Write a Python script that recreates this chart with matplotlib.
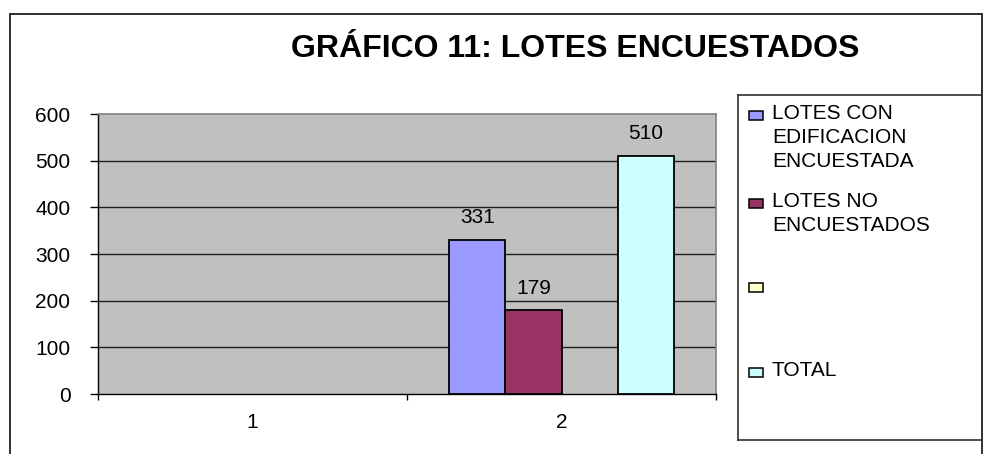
import numpy as np
import matplotlib
matplotlib.use("Agg")
import matplotlib.pyplot as plt
from matplotlib.patches import Rectangle
from matplotlib.lines import Line2D

plt.rcParams['font.family'] = ['Liberation Sans', 'DejaVu Sans']

# ---- data ----
categories = ["1", "2"]
series_names = ["LOTES CON\nEDIFICACION\nENCUESTADA", "LOTES NO\nENCUESTADOS", "", "TOTAL"]
lotes_con_edificacion = [np.nan, 331]
lotes_no_encuestados = [np.nan, 179]
serie_vacia = [np.nan, np.nan]
total = [np.nan, 510]
series_values = [lotes_con_edificacion, lotes_no_encuestados, serie_vacia, total]
series_colors = ["#9999FF", "#993366", "#FFFFCC", "#CCFFFF"]
title = "GRÁFICO 11: LOTES ENCUESTADOS"
yticks = [0, 100, 200, 300, 400, 500, 600]

FS = 15
W, H = 983, 454
fig = plt.figure(figsize=(W / 100, H / 100), dpi=100)

def fx(px):
    return px / W

def fy(py):
    return 1 - py / H

# outer chart border (extends beyond right/bottom of image)
border_col = "#303030"
fig.add_artist(Line2D([fx(10), 1.0], [fy(14), fy(14)], color=border_col, lw=1.4))
fig.add_artist(Line2D([fx(10), fx(10)], [0, fy(14)], color=border_col, lw=1.4))
fig.add_artist(Line2D([fx(982), fx(982)], [0, fy(14)], color=border_col, lw=1.4))

# title
fig.text(fx(575), fy(49), title, ha="center", va="center",
         fontsize=23, fontweight="bold", color="black")

# axes
left, right, top, bottom = 98, 716, 114, 394
ax = fig.add_axes([fx(left), fy(bottom), fx(right - left), (bottom - top) / H])
ax.set_facecolor("#C0C0C0")

n = len(series_values)
w = 1 / 5.5
x = np.arange(len(categories))
for i, (vals, col) in enumerate(zip(series_values, series_colors)):
    offs = (i - (n - 1) / 2) * w
    for xi, v in zip(x, vals):
        if np.isnan(v):
            continue
        ax.bar(xi + offs, v, width=w, color=col, edgecolor="black", linewidth=1.3, zorder=3)
        ax.annotate(f"{int(v)}", (xi + offs, v), xytext=(0, 16), textcoords="offset points",
                    ha="center", va="center", fontsize=FS, color="black", zorder=4)

ax.set_xlim(-0.5, len(categories) - 0.5)
ax.set_ylim(0, 600)
ax.set_yticks(yticks)
ax.set_yticklabels([str(t) for t in yticks], fontsize=FS)
for t in yticks[1:-1]:
    ax.axhline(t, color="#202020", lw=1.0, zorder=1)

ax.set_xticks(x)
ax.set_xticklabels(categories, fontsize=FS)
ax.set_xticks(np.arange(len(categories) + 1) - 0.5, minor=True)
ax.tick_params(axis="x", which="major", length=0, pad=14)
ax.tick_params(axis="x", which="minor", length=4.5, width=1, color="black", direction="out")
ax.tick_params(axis="y", length=5.8, width=1, color="black", direction="out", pad=14)

for s in ["top", "right"]:
    ax.spines[s].set_color("#808080")
    ax.spines[s].set_linewidth(1.2)
for s in ["left", "bottom"]:
    ax.spines[s].set_color("black")
    ax.spines[s].set_linewidth(1.0)

# legend (drawn manually in figure coords)
leg_left, leg_top, leg_bottom = 738, 95, 440
fig.add_artist(Line2D([fx(leg_left), 1.0], [fy(leg_top), fy(leg_top)], color="#303030", lw=1.2))
fig.add_artist(Line2D([fx(leg_left), fx(leg_left)], [fy(leg_bottom), fy(leg_top)], color="#303030", lw=1.2))
fig.add_artist(Line2D([fx(leg_left), 1.0], [fy(leg_bottom), fy(leg_bottom)], color="#303030", lw=1.2))

entry_y = [115, 203, 287, 372]
for name, col, ey in zip(series_names, series_colors, entry_y):
    fig.add_artist(Rectangle((fx(749), fy(ey + 5)), fx(14), 9 / H, facecolor=col,
                             edgecolor="black", lw=1.1, transform=fig.transFigure))
    if name:
        fig.text(fx(772), fy(ey - 11), name, ha="left", va="top", fontsize=FS,
                 linespacing=1.33, color="black")

fig.savefig("out.png", dpi=100)
